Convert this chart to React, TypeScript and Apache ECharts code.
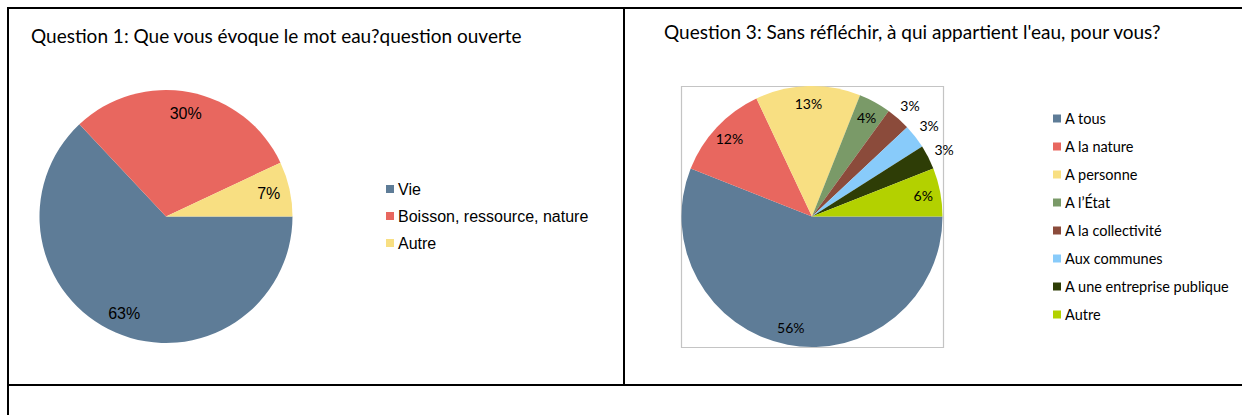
import React, { useEffect, useRef } from "react";
import * as echarts from "echarts";

const q1Title = "Question 1: Que vous évoque le mot eau?question ouverte";
const q1Categories = ["Vie", "Boisson, ressource, nature", "Autre"];
const q1Values = [63, 30, 7];
const q1Colors = ["#5E7C97", "#E8675F", "#F8DF82"];

const q3Title = "Question 3: Sans réfléchir, à qui appartient l'eau, pour vous?";
const q3Categories = [
  "A tous",
  "A la nature",
  "A personne",
  "A l’État",
  "A la collectivité",
  "Aux communes",
  "A une entreprise publique",
  "Autre",
];
const q3Values = [56, 12, 13, 4, 3, 3, 3, 6];
const q3Colors = ["#5E7C97", "#E8675F", "#F8DF82", "#7A9A68", "#8B4B3B", "#88CBFA", "#2E3D06", "#B3D100"];
const q3OutsideLabels = ["A la collectivité", "Aux communes", "A une entreprise publique"];

function useChart(build: () => any) {
  const ref = useRef<HTMLDivElement>(null);
  useEffect(() => {
    if (!ref.current) return;
    const chart = echarts.init(ref.current, undefined, { renderer: "svg" });
    chart.setOption(build());
    return () => chart.dispose();
  }, []);
  return ref;
}

function buildQ1() {
  const data = q1Categories.map((name, i) => ({ name, value: q1Values[i], itemStyle: { color: q1Colors[i] } }));
  const labelData = q1Categories.map((name, i) => ({ name, value: q1Values[i] }));
  return {
    animation: false,
    backgroundColor: "transparent",
    title: {
      text: q1Title,
      left: 31,
      top: 26,
      padding: 0,
      textStyle: { fontFamily: "Lato", fontWeight: "normal", fontSize: 19, color: "#000" },
    },
    legend: {
      orient: "vertical",
      left: 386,
      top: 181,
      padding: 0,
      icon: "rect",
      itemWidth: 8,
      itemHeight: 8,
      itemGap: 11,
      selectedMode: false,
      data: q1Categories.map((name, i) => ({ name, itemStyle: { color: q1Colors[i] } })),
      textStyle: { fontFamily: "Liberation Sans", fontSize: 16, lineHeight: 16, color: "#000", padding: [0, 0, 0, -1] },
    },
    series: [
      {
        type: "pie",
        center: [166, 216.5],
        radius: 126.5,
        startAngle: 0,
        clockwise: true,
        label: { show: false },
        labelLine: { show: false },
        silent: true,
        data,
      },
      {
        type: "pie",
        center: [166, 216.5],
        radius: [78, 126.5],
        startAngle: 0,
        clockwise: true,
        silent: true,
        itemStyle: { color: "rgba(0,0,0,0)" },
        label: {
          show: true,
          position: "inside",
          formatter: "{c}%",
          fontFamily: "Liberation Sans",
          fontSize: 16,
          color: "#000",
        },
        labelLine: { show: false },
        data: labelData,
      },
    ],
  };
}

function buildQ3() {
  const data = q3Categories.map((name, i) => ({ name, value: q3Values[i], itemStyle: { color: q3Colors[i] } }));
  const innerData = q3Categories.map((name, i) => ({
    name,
    value: q3Values[i],
    label: { show: q3OutsideLabels.indexOf(name) < 0 },
  }));
  const outerData = q3Categories.map((name, i) => ({
    name,
    value: q3Values[i],
    label: { show: q3OutsideLabels.indexOf(name) >= 0 },
  }));
  const labelStyle = {
    position: "inside",
    formatter: "{c}%",
    fontFamily: "Lato",
    fontSize: 14,
    color: "#000",
  };
  return {
    animation: false,
    backgroundColor: "transparent",
    title: {
      text: q3Title,
      left: 40,
      top: 22,
      padding: 0,
      textStyle: { fontFamily: "Lato", fontWeight: "normal", fontSize: 19, color: "#000" },
    },
    graphic: [
      {
        type: "rect",
        shape: { x: 57.5, y: 86.5, width: 262, height: 261 },
        style: { fill: "none", stroke: "#C4C4C4", lineWidth: 1.2 },
        silent: true,
      },
    ],
    legend: {
      orient: "vertical",
      left: 429,
      top: 111,
      padding: 0,
      icon: "rect",
      itemWidth: 8,
      itemHeight: 8,
      itemGap: 13,
      selectedMode: false,
      data: q3Categories.map((name, i) => ({ name, itemStyle: { color: q3Colors[i] } })),
      textStyle: { fontFamily: "Lato", fontSize: 14.5, lineHeight: 15, color: "#000", padding: [0, 0, 0, -1] },
    },
    series: [
      {
        type: "pie",
        center: [188, 216.5],
        radius: 130.5,
        startAngle: 0,
        clockwise: true,
        silent: true,
        label: { show: false },
        labelLine: { show: false },
        data,
      },
      {
        type: "pie",
        center: [188, 216.5],
        radius: [90, 130.5],
        startAngle: 0,
        clockwise: true,
        silent: true,
        itemStyle: { color: "rgba(0,0,0,0)" },
        label: labelStyle,
        labelLine: { show: false },
        data: innerData,
      },
      {
        type: "pie",
        center: [188, 216.5],
        radius: [130.5, 160],
        startAngle: 0,
        clockwise: true,
        silent: true,
        itemStyle: { color: "rgba(0,0,0,0)" },
        label: labelStyle,
        labelLine: { show: false },
        data: outerData,
      },
    ],
  };
}

function Q1Chart() {
  const ref = useChart(buildQ1);
  return <div ref={ref} style={{ position: "absolute", left: 0, top: 0, width: 624, height: 384 }} />;
}

function Q3Chart() {
  const ref = useChart(buildQ3);
  return <div ref={ref} style={{ position: "absolute", left: 624, top: 0, width: 618, height: 384 }} />;
}

const lineStyle = (left: number, top: number, width: number, height: number): React.CSSProperties => ({
  position: "absolute",
  left,
  top,
  width,
  height,
  background: "#000",
});

export default function App() {
  return (
    <div
      style={{
        position: "fixed",
        left: 0,
        top: 0,
        width: 1242,
        height: 415,
        background: "#fff",
        overflow: "hidden",
      }}
    >
      <Q1Chart />
      <Q3Chart />
      <div style={lineStyle(7, 7, 1235, 2)} />
      <div style={lineStyle(7, 7, 2, 408)} />
      <div style={lineStyle(623, 7, 2, 378)} />
      <div style={lineStyle(7, 384, 1235, 2)} />
    </div>
  );
}
